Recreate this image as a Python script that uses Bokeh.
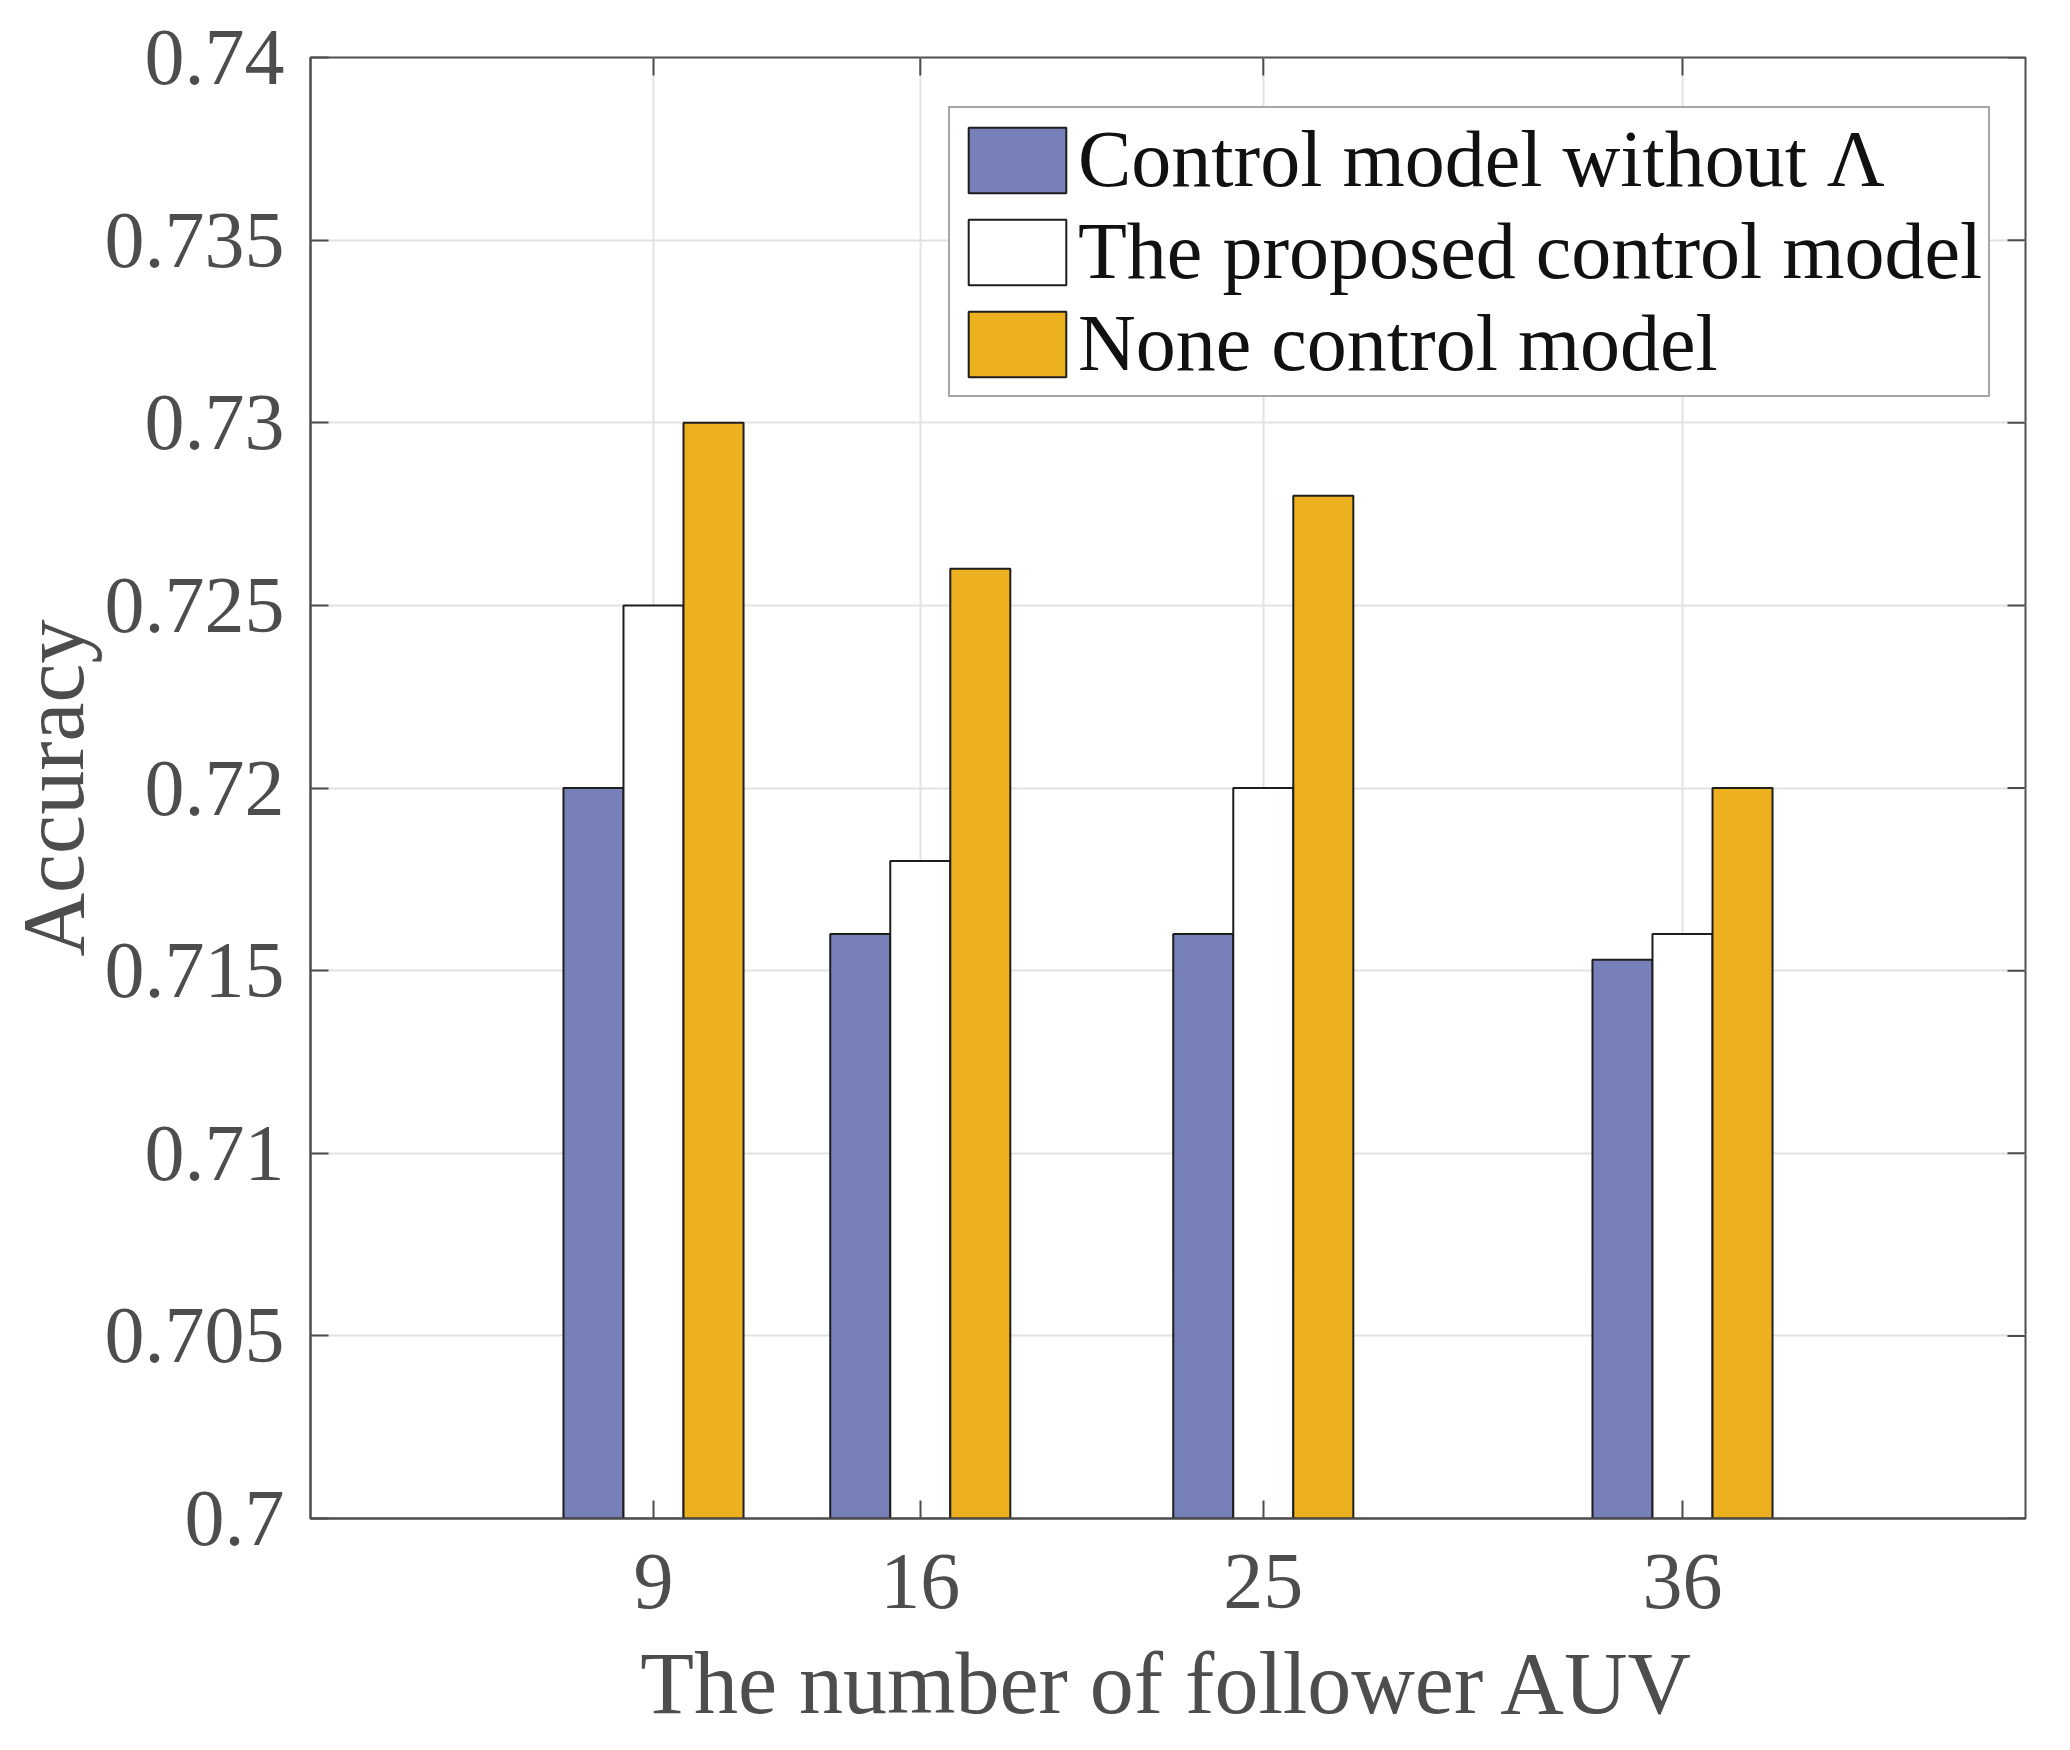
from bokeh.plotting import figure
from bokeh.models import (FixedTicker, Range1d, Legend, LegendItem,
                          NumeralTickFormatter, ColumnDataSource)
from bokeh.embed import file_html
from bokeh.resources import INLINE

# ---- data ----
followers = [9, 16, 25, 36]
series_names = ["Control model without \u039b", "The proposed control model", "None control model"]
acc_without_lambda = [0.720, 0.716, 0.716, 0.7153]
acc_proposed = [0.725, 0.718, 0.720, 0.716]
acc_none = [0.730, 0.726, 0.728, 0.720]
y_ticks = [0.70, 0.705, 0.71, 0.715, 0.72, 0.725, 0.73, 0.735, 0.74]

colors = ["#7880BA", "#FFFFFF", "#EDB120"]
FONT = "Liberation Serif"
TXT = "#4d4d4d"

X0, X1 = 0, 45
Y0, Y1 = 0.70, 0.74
W, H = 2054, 1734
L, R, T, B = 310, 29, 57, 216
p = figure(width=W, height=H, output_backend="svg", toolbar_location=None,
           x_range=Range1d(X0, X1), y_range=Range1d(Y0, Y1),
           min_border_left=L, min_border_right=R, min_border_top=T,
           min_border_bottom=B)

bar_w = 1.575
all_series = [acc_without_lambda, acc_proposed, acc_none]
renderers = []
for i, vals in enumerate(all_series):
    off = (i - 1) * bar_w
    src = ColumnDataSource(dict(x=[f + off for f in followers], top=vals,
                                bottom=[Y0] * len(vals)))
    r = p.vbar(x="x", top="top", bottom="bottom", width=bar_w, source=src,
               fill_color=colors[i], line_color="#1e1e1e", line_width=2)
    renderers.append(r)

# grids
p.xgrid.ticker = FixedTicker(ticks=followers)
p.ygrid.ticker = FixedTicker(ticks=y_ticks)
for g in (p.xgrid[0], p.ygrid[0]):
    g.grid_line_color = "#e2e2e2"
    g.grid_line_width = 2

p.outline_line_color = TXT
p.outline_line_width = 2
p.outline_line_alpha = 1.0
p.background_fill_color = "white"
p.border_fill_color = "white"

def style_axis(ax):
    ax.axis_line_color = TXT
    ax.axis_line_width = 2
    ax.major_tick_line_color = TXT
    ax.major_tick_line_width = 2
    ax.major_tick_in = 18
    ax.major_tick_out = 0
    ax.minor_tick_line_color = None
    ax.major_label_text_font = FONT
    ax.major_label_text_color = TXT
    ax.major_label_text_font_size = "80px"
    ax.axis_label_text_font = FONT
    ax.axis_label_text_color = TXT
    ax.axis_label_text_font_style = "normal"
    ax.axis_label_text_font_size = "88px"

xa = p.xaxis[0]
xa.ticker = FixedTicker(ticks=followers)
xa.axis_label = "The number of follower AUV"
style_axis(xa)
xa.major_label_standoff = 36
xa.axis_label_standoff = 24

ya = p.yaxis[0]
ya.ticker = FixedTicker(ticks=y_ticks)
ya.formatter = NumeralTickFormatter(format="0.[000]")
ya.axis_label = "Accuracy"
style_axis(ya)
ya.major_label_standoff = 26
ya.axis_label_standoff = 0

# mirrored inward ticks on the top and right edges of the box (18 px long)
frame_w = W - L - R
frame_h = H - T - B
tick_dx = 18 * (X1 - X0) / frame_w
tick_dy = 18 * (Y1 - Y0) / frame_h
p.segment(x0=followers, x1=followers, y0=[Y1] * len(followers),
          y1=[Y1 - tick_dy] * len(followers), line_color=TXT, line_width=2)
p.segment(x0=[X1] * len(y_ticks), x1=[X1 - tick_dx] * len(y_ticks),
          y0=y_ticks, y1=y_ticks, line_color=TXT, line_width=2)

legend = Legend(items=[LegendItem(label=series_names[i], renderers=[renderers[i]])
                       for i in range(3)],
                location=(948 - L, H - B - 397))
legend.label_text_font = FONT
legend.label_text_font_size = "80px"
legend.label_text_color = "#111111"
legend.glyph_width = 122
legend.glyph_height = 82
legend.label_standoff = 0
legend.spacing = 1
legend.padding = 6
legend.margin = 0
legend.border_line_color = TXT
legend.border_line_width = 2
legend.background_fill_alpha = 1.0
p.add_layout(legend, "center")

open("out.html", "w").write(file_html(p, INLINE))
